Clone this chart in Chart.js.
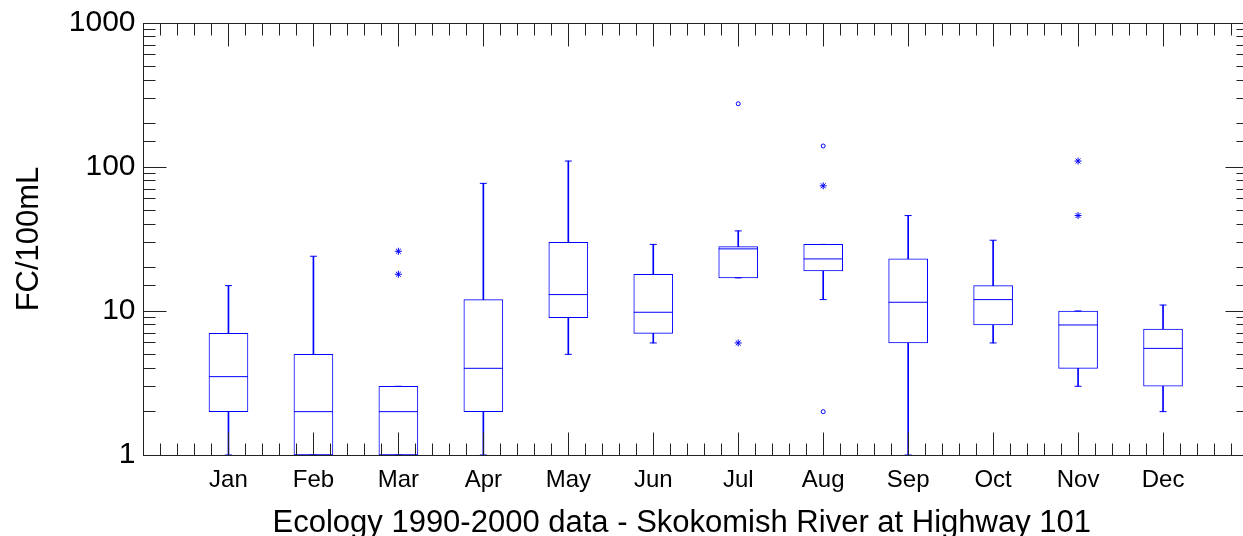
<!DOCTYPE html>
<html>
<head>
<meta charset="utf-8">
<title>FC/100mL - Skokomish River</title>
<script src="https://cdn.jsdelivr.net/npm/chart.js@4.4.0/dist/chart.umd.min.js"></script>
<style>
  html, body { margin: 0; padding: 0; background: #fff; overflow: hidden; }
  #wrap { width: 1243px; height: 536px; overflow: hidden; position: relative; }
  canvas { display: block; }
</style>
</head>
<body>
<div id="wrap">
<canvas id="boxChart" width="1250" height="536"></canvas>
</div>
<script>
// months on the x axis (positions 1..12)
const months = ['Jan', 'Feb', 'Mar', 'Apr', 'May', 'Jun', 'Jul', 'Aug', 'Sep', 'Oct', 'Nov', 'Dec'];

// box plot summary per month
const whiskerLow  = [1, 1, 1, 1, 5, 6, 17, 12, 1, 6, 3, 2];
const boxLow      = [2, 1, 1, 2, 9, 7, 17, 19, 6, 8, 4, 3];
const medians     = [3.5, 2, 2, 4, 13, 9.8, 27, 23, 11.5, 12, 8, 5.5];
const boxHigh     = [7, 5, 3, 12, 30, 18, 28, 29, 23, 15, 10, 7.5];
const whiskerHigh = [15, 24, 3, 77, 110, 29, 36, 29, 46, 31, 10, 11];

// outliers (month number, value)
const starMonths   = [3, 3, 7, 8, 11, 11];
const starValues   = [26, 18, 6, 74, 110, 46];
const circleMonths = [7, 8, 8];
const circleValues = [275, 140, 2];

// labelled ticks on the y axis
const yTicks = [1, 10, 100, 1000];

const blue = 'rgb(0,0,255)';
const font = '"Liberation Sans", Arial, sans-serif';
const xTitle = 'Ecology 1990-2000 data - Skokomish River at Highway 101';

// tick marks inside the frame on all four sides
const frameTicks = {
    id: 'frameTicks',
    afterDraw(chart) {
        const { ctx, chartArea: a, scales: { x, y } } = chart;
        const snap = v => Math.floor(v) + 0.5;
        const L = snap(a.left), R = snap(a.right), T = snap(a.top), B = snap(a.bottom);
        ctx.save();
        ctx.strokeStyle = '#222';
        ctx.lineWidth = 1;
        ctx.beginPath();
        x.ticks.forEach(t => {
            const px = snap(x.getPixelForValue(t.value));
            const len = Math.abs(t.value - Math.round(t.value)) < 1e-6 ? 23 : 12;
            ctx.moveTo(px, B); ctx.lineTo(px, B - len);
            ctx.moveTo(px, T); ctx.lineTo(px, T + len);
        });
        y.ticks.forEach(t => {
            const py = snap(y.getPixelForValue(t.value));
            const len = yTicks.includes(t.value) ? 23 : 12;
            ctx.moveTo(L, py); ctx.lineTo(L + len, py);
            ctx.moveTo(R, py); ctx.lineTo(R - len, py);
        });
        ctx.stroke();
        ctx.strokeRect(L, T, R - L, B - T);

        // bottom title
        ctx.fillStyle = '#000';
        ctx.font = '31px ' + font;
        ctx.textAlign = 'center';
        ctx.textBaseline = 'alphabetic';
        ctx.fillText(xTitle, (a.left + a.right) / 2 - 14, 532);
        ctx.restore();
    }
};

const pos = months.map((m, i) => i + 1);

new Chart(document.getElementById('boxChart'), {
    type: 'bar',
    data: {
        datasets: [
            {
                type: 'scatter',
                label: 'outliers *',
                data: starMonths.map((m, i) => ({ x: m, y: starValues[i] })),
                pointStyle: 'star',
                radius: 3.5,
                borderColor: blue,
                borderWidth: 1
            },
            {
                type: 'scatter',
                label: 'outliers o',
                data: circleMonths.map((m, i) => ({ x: m, y: circleValues[i] })),
                pointStyle: 'circle',
                radius: 2,
                backgroundColor: '#fff',
                borderColor: blue,
                borderWidth: 1
            },
            {
                type: 'scatter',
                label: 'median',
                data: pos.map((p, i) => ({ x: p, y: medians[i] })),
                pointStyle: 'line',
                radius: 19.5,
                borderColor: blue,
                borderWidth: 1
            },
            {
                type: 'scatter',
                label: 'caps',
                data: pos.map((p, i) => ({ x: p, y: whiskerHigh[i] }))
                    .concat(pos.map((p, i) => ({ x: p, y: whiskerLow[i] }))),
                pointStyle: 'line',
                radius: 3.5,
                borderColor: blue,
                borderWidth: 1
            },
            {
                label: 'box',
                data: pos.map((p, i) => ({ x: p, y: [boxLow[i], boxHigh[i]] })),
                grouped: false,
                barThickness: 39,
                backgroundColor: '#fff',
                borderColor: blue,
                borderWidth: 1,
                borderSkipped: false
            },
            {
                label: 'whisker',
                data: pos.map((p, i) => ({ x: p, y: [whiskerLow[i], whiskerHigh[i]] })),
                grouped: false,
                barThickness: 1,
                backgroundColor: blue,
                borderWidth: 0
            }
        ]
    },
    options: {
        responsive: false,
        animation: false,
        devicePixelRatio: 1,
        layout: {
            autoPadding: false,
            padding: { top: 23, right: 2, left: 0.5, bottom: 0 }
        },
        plugins: {
            legend: { display: false },
            tooltip: { enabled: false }
        },
        scales: {
            x: {
                type: 'linear',
                min: 0,
                max: 13,
                offset: false,
                grid: { display: false, drawTicks: false, offset: false },
                border: { display: false },
                afterFit: s => {
                    s.height = 81;
                    s.paddingLeft = 0;
                    s.paddingRight = 0;
                },
                ticks: {
                    stepSize: 0.2,
                    autoSkip: false,
                    maxRotation: 0,
                    minRotation: 0,
                    padding: 11,
                    color: '#000',
                    font: { family: font, size: 24 },
                    callback: v => {
                        const n = Math.round(v);
                        return Math.abs(v - n) < 1e-6 && n >= 1 && n <= 12 ? months[n - 1] : '';
                    }
                }
            },
            y: {
                type: 'logarithmic',
                min: 1,
                max: 1000,
                grid: { display: false, drawTicks: false },
                border: { display: false },
                afterFit: s => {
                    s.width = 143;
                    s.paddingTop = 0;
                    s.paddingBottom = 0;
                },
                title: {
                    display: true,
                    text: 'FC/100mL',
                    color: '#000',
                    padding: { top: 10, bottom: 0 },
                    font: { family: font, size: 31 }
                },
                ticks: {
                    autoSkip: false,
                    padding: 8,
                    color: '#000',
                    font: { family: font, size: 30 },
                    callback: v => yTicks.includes(v) ? String(v) : ''
                }
            }
        }
    },
    plugins: [frameTicks]
});
</script>
</body>
</html>
